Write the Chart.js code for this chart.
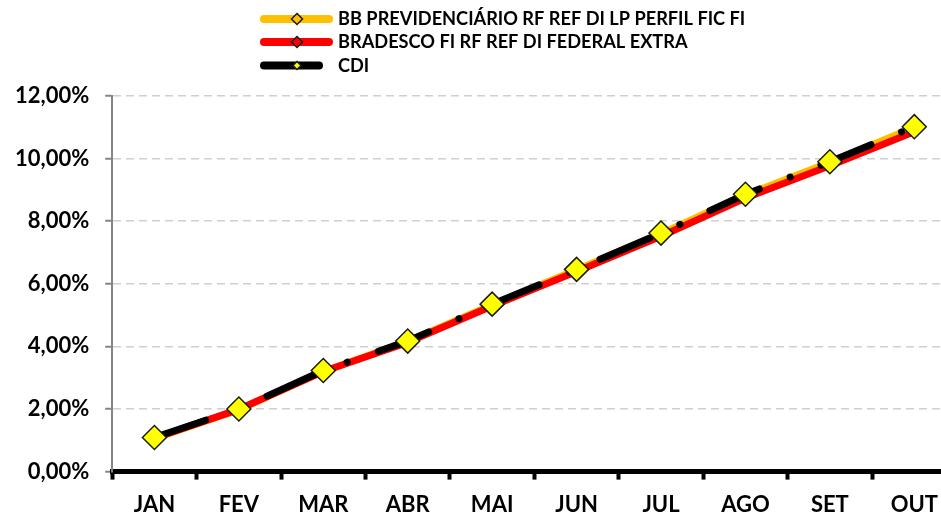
<!DOCTYPE html>
<html>
<head>
<meta charset="utf-8">
<title>Rentabilidade acumulada</title>
<script src="https://cdn.jsdelivr.net/npm/chart.js@4.4.1/dist/chart.umd.min.js"></script>
<style>
    html, body { margin: 0; padding: 0; background: #fff; overflow: hidden; }
    #wrap { position: relative; width: 970px; height: 530px; }
</style>
</head>
<body>
<div id="wrap"><canvas id="rentChart"></canvas></div>
<script>
// categorias (meses)
const months = ['JAN', 'FEV', 'MAR', 'ABR', 'MAI', 'JUN', 'JUL', 'AGO', 'SET', 'OUT']

// rotulos do eixo y
const yTickLabels = ['0,00%', '2,00%', '4,00%', '6,00%', '8,00%', '10,00%', '12,00%']

const seriesNames = [
    'BB PREVIDENCIÁRIO RF REF DI LP PERFIL FIC FI',
    'BRADESCO FI RF REF DI FEDERAL EXTRA',
    'CDI'
]

// rentabilidade acumulada (%)
const bbPrevData   = [1.06, 1.97, 3.20, 4.16, 5.33, 6.45, 7.60, 8.84, 9.88, 11.00]
const bradescoData = [1.07, 1.99, 3.20, 4.13, 5.29, 6.39, 7.52, 8.74, 9.77, 10.86]
const cdiData      = [1.09, 2.00, 3.23, 4.17, 5.35, 6.46, 7.62, 8.86, 9.90, 11.02]

Chart.defaults.font.family = 'Lato'
Chart.defaults.font.weight = 'bold'
Chart.defaults.font.size = 22
Chart.defaults.color = '#000'

// legenda vertical desenhada a mao (a do chart.js centraliza cada linha)
const sideLegend = {
    id: 'sideLegend',
    afterDraw(chart) {
        const ctx = chart.ctx
        const rows = [19, 42, 65.5]
        const lineEnd = [329, 329, 319]
        ctx.save()
        chart.data.datasets.forEach((ds, i) => {
            const y = rows[i]
            ctx.beginPath()
            ctx.lineCap = 'round'
            ctx.lineWidth = 8
            ctx.strokeStyle = ds.borderColor
            ctx.moveTo(264, y)
            ctx.lineTo(lineEnd[i], y)
            ctx.stroke()

            const r = i == 2 ? 4 : 5.5
            ctx.beginPath()
            ctx.moveTo(297, y - r)
            ctx.lineTo(297 + r, y)
            ctx.lineTo(297, y + r)
            ctx.lineTo(297 - r, y)
            ctx.closePath()
            ctx.fillStyle = ds.pointBackgroundColor
            ctx.fill()
            ctx.lineWidth = 1.5
            ctx.strokeStyle = '#1a1a1a'
            ctx.stroke()

            ctx.fillStyle = '#000'
            ctx.font = 'bold 18.2px Lato'
            ctx.textBaseline = 'middle'
            ctx.fillText(seriesNames[i], 338, y + 0.5)
        })
        ctx.restore()
    }
}

var ctx = document.getElementById('rentChart').getContext('2d')
var rentChart = new Chart(ctx, {
    type: 'line',
    data: {
        labels: months,
        datasets: [
            {
                label: seriesNames[0],
                data: bbPrevData,
                borderColor: '#ffc000',
                borderWidth: 7,
                pointStyle: 'rectRot',
                pointRadius: 5.5,
                pointBackgroundColor: '#ffc000',
                pointBorderColor: '#1a1a1a',
                pointBorderWidth: 1.5,
                order: 3,
            },
            {
                label: seriesNames[1],
                data: bradescoData,
                borderColor: '#ff0000',
                borderWidth: 7,
                pointStyle: 'rectRot',
                pointRadius: 5.5,
                pointBackgroundColor: '#ff0000',
                pointBorderColor: '#1a1a1a',
                pointBorderWidth: 1.5,
                order: 2,
            },
            {
                label: seriesNames[2],
                data: cdiData,
                borderColor: '#000000',
                borderWidth: 7,
                borderCapStyle: 'round',
                borderDash: [54, 33, 0.1, 33],
                pointStyle: 'rectRot',
                pointRadius: 12,
                pointBackgroundColor: '#ffff00',
                pointBorderColor: '#1a1a1a',
                pointBorderWidth: 1.5,
                order: 1,
            }
        ]
    },
    options: {
        responsive: true,
        maintainAspectRatio: false,
        animation: false,
        devicePixelRatio: 1,
        layout: {
            padding: { top: 96, left: -1, right: 3, bottom: 0 }
        },
        elements: {
            line: { tension: 0, borderJoinStyle: 'round', fill: false }
        },
        plugins: {
            legend: { display: false },
            tooltip: { enabled: false }
        },
        scales: {
            x: {
                offset: true,
                grid: {
                    offset: true,
                    drawOnChartArea: false,
                    tickColor: '#000',
                    tickWidth: 4,
                    tickLength: 8,
                },
                border: { color: '#000', width: 5 },
                ticks: { padding: 12 }
            },
            y: {
                min: 0,
                max: 12,
                ticks: {
                    stepSize: 2,
                    padding: 16,
                    callback: (value, index) => yTickLabels[index]
                },
                grid: {
                    color: '#d0d0d0',
                    lineWidth: 1.5,
                    tickColor: '#858585',
                    tickWidth: 2,
                    tickLength: 7,
                    tickBorderDash: [],
                },
                border: { color: '#858585', width: 2, dash: [8, 5] }
            }
        }
    },
    plugins: [sideLegend]
})
</script>
</body>
</html>
